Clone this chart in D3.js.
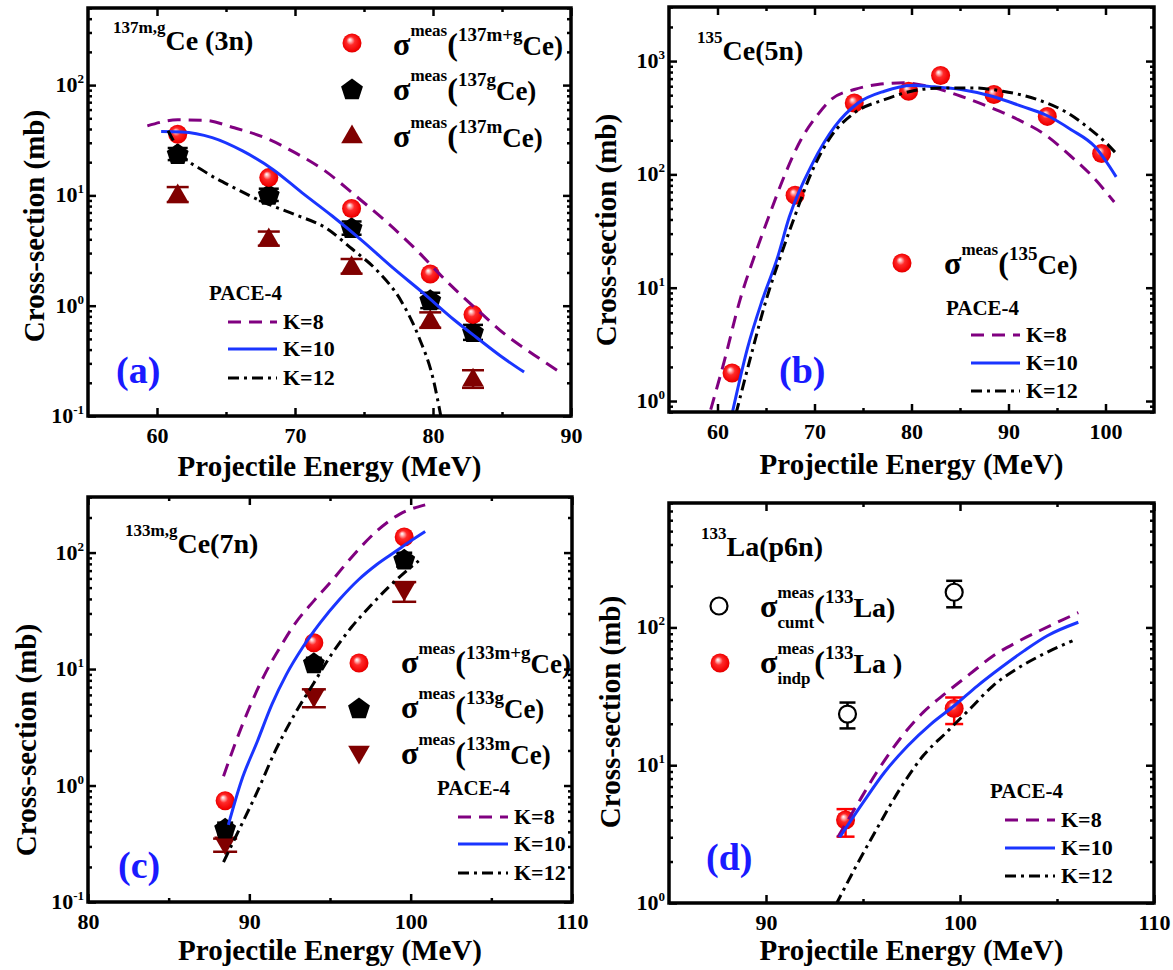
<!DOCTYPE html>
<html><head><meta charset="utf-8">
<script src="https://cdn.jsdelivr.net/npm/d3@7"></script>
<style>
body{margin:0;background:#fff}
text{font-family:"Liberation Serif","Times New Roman",serif;font-weight:bold}
</style>
</head><body>
<svg id="c" width="1173" height="970"></svg>
<script>
// ---------------- DATA ----------------
// Panel (a) 137m,gCe (3n)
const energyA = [61.5, 68.1, 74.1, 79.8, 82.9];
const sigmaA_mg = [35.9, 14.5, 7.6, 1.94, 0.83];
const sigmaA_g = [23.9, 10.2, 5.1, 1.13, 0.58];
const sigmaA_m = [10.3, 4.1, 2.3, 0.75, 0.22];
const errA_g = [3.0, 1.3, 0.7, 0.18, 0.09];
const errA_m = [1.6, 0.6, 0.35, 0.12, 0.04];
const paceA_K8_E = [59.3, 61.5, 63.4, 65.6, 67.8, 70, 72.2, 74.4, 76.6, 78.8, 81, 83.2, 85.3, 87.3, 89.2];
const paceA_K8 = [42.7, 48.4, 48, 41, 33.4, 24.4, 16.6, 9.9, 5.8, 3.2, 1.66, 0.92, 0.54, 0.36, 0.25];
const paceA_K10_E = [60.3, 61.8, 64, 66.2, 68.4, 70.5, 72.7, 74.9, 77.1, 79.3, 81.5, 83.2, 84.9, 86.6];
const paceA_K10 = [37.9, 37.6, 33.4, 25.3, 17.2, 10.6, 6.5, 3.85, 2.2, 1.3, 0.75, 0.51, 0.35, 0.25];
const paceA_K12_E = [60.8, 61.8, 63.4, 65.6, 67.8, 70, 72.2, 74.1, 76, 77.7, 79, 80, 80.6];
const paceA_K12 = [38.5, 23.6, 16.6, 11.7, 8.6, 6.7, 5.1, 3.3, 2.05, 1.1, 0.51, 0.22, 0.095];

// Panel (b) 135Ce (5n)
const energyB = [61.5, 68.0, 74.1, 79.7, 83.0, 88.5, 94.0, 99.6];
const sigmaB = [1.77, 65.6, 427, 542, 746, 506, 325, 153];
const paceB_K8_E = [59.3, 60.7, 62.3, 63.9, 65.4, 67.0, 68.6, 70.2, 71.7, 74.1, 76.5, 79.2, 82.0, 85.1, 88.3, 91.0, 93.8, 96.1, 98.5, 100.9];
const paceB_K8 = [0.84, 2.25, 7.7, 20, 45, 102, 202, 325, 457, 561, 621, 643, 592, 489, 385, 304, 223, 153, 99, 57];
const paceB_K10_E = [61.5, 63.1, 64.6, 66.2, 67.4, 69.8, 72.1, 74.5, 77.2, 80.0, 82.4, 85.1, 88.3, 91.4, 93.8, 96.5, 98.9, 101.1];
const paceB_K10 = [0.77, 2.95, 7.7, 18.6, 42, 125, 265, 427, 542, 608, 592, 561, 489, 398, 336, 247, 176, 95];
const paceB_K12_E = [61.9, 63.5, 65.0, 66.6, 67.8, 69.8, 71.7, 74.1, 77.2, 80.0, 83.1, 86.3, 89.4, 93.0, 96.1, 98.5, 100.1, 101.1];
const paceB_K12 = [0.77, 2.6, 7.7, 20, 39, 109, 216, 348, 457, 542, 579, 579, 542, 457, 348, 247, 188, 153];

// Panel (c) 133m,gCe (7n)
const energyC = [88.5, 94.0, 99.6];
const sigmaC_mg = [0.74, 16.8, 136];
const sigmaC_g = [0.43, 11.3, 87.7];
const sigmaC_m = [0.31, 5.7, 46.8];
const errC_g = [0.05, 1.2, 12];
const errC_m = [0.04, 1.0, 9];
const paceC_K8_E = [88.4, 89.1, 90.0, 90.9, 91.9, 92.8, 94.0, 95.1, 96.3, 97.9, 99.3, 100.9];
const paceC_K8 = [1.2, 2.25, 4.65, 8.7, 15.3, 24.2, 38.5, 57, 90, 153, 213, 257];
const paceC_K10_E = [88.7, 89.5, 90.5, 91.4, 92.3, 93.3, 94.4, 95.6, 96.8, 97.9, 99.1, 100.0, 100.9];
const paceC_K10 = [0.46, 1.09, 2.4, 4.97, 9.0, 15.3, 25, 39.7, 59, 79, 103, 126, 152];
const paceC_K12_E = [88.4, 89.3, 90.5, 91.6, 92.8, 94.0, 95.1, 96.3, 97.5, 98.6, 99.6, 100.5];
const paceC_K12 = [0.22, 0.40, 0.89, 1.97, 4.07, 7.6, 13.4, 22.6, 34.8, 50, 67, 85];

// Panel (d) 133La (p6n)
const energyD_cumt = [94.2, 99.7];
const sigmaD_cumt = [23.5, 180];
const loD_cumt = [18.5, 140];
const hiD_cumt = [28.5, 218];
const energyD_indp = [94.1, 99.7];
const sigmaD_indp = [4.0, 25.8];
const loD_indp = [3.03, 19.9];
const hiD_indp = [4.8, 31];
const paceD_K8_E = [93.7, 94.6, 95.7, 96.9, 98.1, 99.3, 100.5, 101.7, 102.9, 104.1, 105.2, 106.1];
const paceD_K8 = [3.0, 4.9, 8.85, 15.5, 24.2, 33.7, 45.8, 62, 77.8, 94.6, 112, 128];
const paceD_K10_E = [93.8, 95.0, 96.1, 97.3, 98.5, 99.7, 100.9, 102.1, 103.3, 104.5, 106.1];
const paceD_K10 = [3.0, 5.35, 8.85, 13.8, 19.9, 27, 37.7, 51, 67.6, 87, 109];
const paceD_K12_E = [93.6, 94.6, 95.7, 96.9, 98.1, 99.3, 100.5, 101.7, 102.9, 104.1, 105.8];
const paceD_K12 = [0.97, 1.8, 3.43, 6.7, 11.7, 17.3, 25.5, 37.7, 49.8, 62, 80];

// Axis ticks
const ticksA_x = [60, 70, 80, 90], minorA_x = [65, 75, 85];
const ticksB_x = [60, 70, 80, 90, 100], minorB_x = [65, 75, 85, 95];
const ticksC_x = [80, 90, 100, 110], minorC_x = [85, 95, 105];
const ticksD_x = [90, 100, 110], minorD_x = [95, 105];
const paceLabels = ["K=8", "K=10", "K=12"];

// ---------------- STYLE ----------------
const C8 = "#800080", C10 = "#1a35ff", C12 = "#000000", DARKRED = "#800000", LBLUE = "#1a1aff";
const svg = d3.select("#c");
svg.append("rect").attr("width", 1173).attr("height", 970).attr("fill", "#fff");
const defs = svg.append("defs");
const grad = defs.append("radialGradient").attr("id", "ball").attr("cx", 0.5).attr("cy", 0.5).attr("r", 0.55).attr("fx", 0.38).attr("fy", 0.32);
[[0, "#ffffff"], [0.14, "#ffc0c0"], [0.4, "#ff2a2a"], [0.85, "#f00000"], [1, "#c80000"]].forEach(s =>
  grad.append("stop").attr("offset", s[0]).attr("stop-color", s[1]));

function polyPath(r, startDeg, n) {
  const pts = d3.range(n).map(i => {
    const a = (startDeg + 360 / n * i) * Math.PI / 180;
    return [r * Math.cos(a), r * Math.sin(a)];
  });
  return "M" + pts.map(p => p.join(",")).join("L") + "Z";
}

function marker(g, type, cx, cy) {
  if (type === "ball") {
    g.append("circle").attr("cx", cx).attr("cy", cy).attr("r", 9.5).attr("fill", "url(#ball)");
  } else if (type === "open") {
    g.append("circle").attr("cx", cx).attr("cy", cy).attr("r", 8.5).attr("fill", "#fff").attr("stroke", "#000").attr("stroke-width", 2.2);
  } else if (type === "pent") {
    g.append("path").attr("transform", `translate(${cx},${cy + 1})`).attr("d", polyPath(11.5, -90, 5)).attr("fill", "#000");
  } else if (type === "tri") {
    g.append("path").attr("transform", `translate(${cx},${cy + 2})`).attr("d", polyPath(12.5, -90, 3)).attr("fill", DARKRED);
  } else if (type === "tridown") {
    g.append("path").attr("transform", `translate(${cx},${cy - 2})`).attr("d", polyPath(12.5, 90, 3)).attr("fill", DARKRED);
  }
}

function richText(g, x, y, segs, color) {
  let cx = x, stackW = 0;
  segs.forEach(s => {
    const t = g.append("text").attr("x", cx).attr("y", y - (s.r || 0))
      .attr("font-size", s.s).attr("fill", color || "#000").text(s.t);
    const w = t.node().getComputedTextLength();
    if (s.stack) { stackW = w; }
    else { cx += Math.max(w, stackW); stackW = 0; }
  });
}

function legendRow(g, x, y, iso, tail) {
  richText(g, x, y, [
    { t: "σ", s: 32 }, { t: "meas", s: 17, r: 19 }, { t: "(", s: 32 },
    { t: iso, s: 19, r: 14 }, { t: tail || "Ce)", s: 27 }
  ]);
}

function drawPanel(p) {
  const g = svg.append("g");
  const x = d3.scaleLinear().domain(p.xDom).range([p.x0, p.x1]);
  const y = d3.scaleLog().domain(p.yDom).range([p.y1, p.y0]);
  const cid = "clip" + p.id;
  defs.append("clipPath").attr("id", cid).append("rect")
    .attr("x", p.x0).attr("y", p.y0).attr("width", p.x1 - p.x0).attr("height", p.y1 - p.y0);

  // ticks
  const lo = Math.floor(Math.log10(p.yDom[0])), hi = Math.ceil(Math.log10(p.yDom[1]));
  const decades = [], minors = [];
  for (let d = lo; d <= hi; d++) {
    const v = Math.pow(10, d);
    if (v >= p.yDom[0] * 0.999 && v <= p.yDom[1]) decades.push(v);
    for (let k = 2; k <= 9; k++) { const m = k * v; if (m >= p.yDom[0] && m <= p.yDom[1]) minors.push(m); }
  }
  const styleAxis = sel => {
    sel.select(".domain").remove();
    sel.selectAll("line").attr("stroke", "#000").attr("stroke-width", 2.5);
  };
  const none = () => "";
  const gb = g.append("g").attr("transform", `translate(0,${p.y1})`)
    .call(d3.axisBottom(x).tickValues(p.xMajor).tickSizeInner(-8).tickSizeOuter(0).tickPadding(11).tickFormat(d3.format("d")));
  styleAxis(gb);
  gb.selectAll("text").attr("font-size", 22).attr("font-family", '"Liberation Serif","Times New Roman",serif').attr("font-weight", "bold").attr("fill", "#000");
  g.append("g").attr("transform", `translate(0,${p.y1})`).call(d3.axisBottom(x).tickValues(p.xMinor).tickSizeInner(-4).tickSizeOuter(0).tickFormat(none)).call(styleAxis);
  g.append("g").attr("transform", `translate(0,${p.y0})`).call(d3.axisTop(x).tickValues(p.xMajor).tickSizeInner(-8).tickSizeOuter(0).tickFormat(none)).call(styleAxis);
  g.append("g").attr("transform", `translate(0,${p.y0})`).call(d3.axisTop(x).tickValues(p.xMinor).tickSizeInner(-4).tickSizeOuter(0).tickFormat(none)).call(styleAxis);
  g.append("g").attr("transform", `translate(${p.x0},0)`).call(d3.axisLeft(y).tickValues(decades).tickSizeInner(-8).tickSizeOuter(0).tickFormat(none)).call(styleAxis);
  g.append("g").attr("transform", `translate(${p.x0},0)`).call(d3.axisLeft(y).tickValues(minors).tickSizeInner(-4).tickSizeOuter(0).tickFormat(none)).call(styleAxis);
  g.append("g").attr("transform", `translate(${p.x1},0)`).call(d3.axisRight(y).tickValues(decades).tickSizeInner(-8).tickSizeOuter(0).tickFormat(none)).call(styleAxis);
  g.append("g").attr("transform", `translate(${p.x1},0)`).call(d3.axisRight(y).tickValues(minors).tickSizeInner(-4).tickSizeOuter(0).tickFormat(none)).call(styleAxis);
  decades.forEach(v => {
    const t = g.append("text").attr("x", p.x0 - 4).attr("y", y(v) + 7).attr("text-anchor", "end").attr("font-size", 22);
    t.append("tspan").text("10");
    t.append("tspan").attr("font-size", 13).attr("dy", -9).text(String(Math.round(Math.log10(v))));
  });

  // axis titles
  g.append("text").attr("x", (p.x0 + p.x1) / 2).attr("y", p.xTitleY).attr("text-anchor", "middle").attr("font-size", 29).text("Projectile Energy (MeV)");
  g.append("text").attr("transform", `translate(${p.yTitleX},${p.yTitleY}) rotate(-90)`).attr("text-anchor", "middle").attr("font-size", 29).text("Cross-section (mb)");

  // data points
  const pts = g.append("g").attr("clip-path", `url(#${cid})`);
  p.series.forEach(s => {
    s.E.forEach((e, i) => {
      const cx = x(e), cy = y(s.v[i]);
      if (s.lo) {
        const y1 = y(s.lo[i]), y2 = y(s.hi[i]), cw = s.cw || 10;
        pts.append("line").attr("x1", cx).attr("x2", cx).attr("y1", y1).attr("y2", y2).attr("stroke", s.ec).attr("stroke-width", 2.5);
        [y1, y2].forEach(yy => pts.append("line").attr("x1", cx - cw).attr("x2", cx + cw).attr("y1", yy).attr("y2", yy).attr("stroke", s.ec).attr("stroke-width", 2.5));
      }
      marker(pts, s.type, cx, cy);
    });
  });

  // curves
  const line = d3.line().x(d => x(d[0])).y(d => y(d[1])).curve(d3.curveMonotoneX);
  const cg = g.append("g").attr("clip-path", `url(#${cid})`);
  p.curves.forEach(c => {
    cg.append("path").attr("d", line(d3.zip(c.E, c.v))).attr("fill", "none")
      .attr("stroke", c.color).attr("stroke-width", 3).attr("stroke-dasharray", c.dash);
  });

  // frame
  g.append("rect").attr("x", p.x0).attr("y", p.y0).attr("width", p.x1 - p.x0).attr("height", p.y1 - p.y0)
    .attr("fill", "none").attr("stroke", "#000").attr("stroke-width", 3.5);

  // title
  richText(g, p.title.x, p.title.y, [{ t: p.title.sup, s: 17, r: 17 }, { t: p.title.main, s: 28 }]);
  // panel label
  g.append("text").attr("x", p.label.x).attr("y", p.label.y).attr("font-size", 38).attr("fill", LBLUE).text(p.label.t);

  // PACE legend
  const L = p.pace;
  g.append("text").attr("x", L.tx).attr("y", L.ty).attr("font-size", 21).text("PACE-4");
  const styles = [[C8, "13,8"], [C10, null], [C12, "11,5,3,5"]];
  paceLabels.forEach((lab, i) => {
    g.append("line").attr("x1", L.lx0).attr("x2", L.lx1).attr("y1", L.ly[i]).attr("y2", L.ly[i])
      .attr("stroke", styles[i][0]).attr("stroke-width", 3).attr("stroke-dasharray", styles[i][1]);
    g.append("text").attr("x", L.lx1 + 6).attr("y", L.ly[i] + 7).attr("font-size", 22).text(lab);
  });
  return g;
}

const K8 = (E, v) => ({ E, v, color: C8, dash: "13,8" });
const K10 = (E, v) => ({ E, v, color: C10, dash: null });
const K12 = (E, v) => ({ E, v, color: C12, dash: "11,5,3,5" });
const lowErr = (v, e) => v.map((d, i) => d - e[i]);
const highErr = (v, e) => v.map((d, i) => d + e[i]);

// ---------------- PANEL (a) ----------------
const gA = drawPanel({
  id: "a", x0: 88, x1: 571, y0: 8, y1: 416, xDom: [55, 90], yDom: [0.1, 500],
  xMajor: ticksA_x, xMinor: minorA_x, xTitleY: 476, yTitleX: 44, yTitleY: 226,
  series: [
    { E: energyA, v: sigmaA_m, type: "tri", lo: lowErr(sigmaA_m, errA_m), hi: highErr(sigmaA_m, errA_m), ec: DARKRED, cw: 11 },
    { E: energyA, v: sigmaA_g, type: "pent", lo: lowErr(sigmaA_g, errA_g), hi: highErr(sigmaA_g, errA_g), ec: "#000", cw: 10 },
    { E: energyA, v: sigmaA_mg, type: "ball" }
  ],
  curves: [K8(paceA_K8_E, paceA_K8), K10(paceA_K10_E, paceA_K10), K12(paceA_K12_E, paceA_K12)],
  title: { x: 113, y: 50, sup: "137m,g", main: "Ce (3n)" },
  label: { x: 116, y: 383, t: "(a)" },
  pace: { tx: 209, ty: 300, lx0: 228, lx1: 277, ly: [322, 349, 378] }
});
marker(gA, "ball", 352, 43); legendRow(gA, 393, 55, "137m+g");
marker(gA, "pent", 352, 89); legendRow(gA, 393, 100, "137g");
marker(gA, "tri", 352, 135); legendRow(gA, 393, 147, "137m");

// ---------------- PANEL (b) ----------------
const gB = drawPanel({
  id: "b", x0: 669, x1: 1154, y0: 7, y1: 412, xDom: [55, 105], yDom: [0.8, 3000],
  xMajor: ticksB_x, xMinor: minorB_x, xTitleY: 474, yTitleX: 616, yTitleY: 230,
  series: [{ E: energyB, v: sigmaB, type: "ball" }],
  curves: [K8(paceB_K8_E, paceB_K8), K10(paceB_K10_E, paceB_K10), K12(paceB_K12_E, paceB_K12)],
  title: { x: 697, y: 60, sup: "135", main: "Ce(5n)" },
  label: { x: 779, y: 383, t: "(b)" },
  pace: { tx: 946, ty: 315, lx0: 971, lx1: 1020, ly: [335, 363, 391] }
});
marker(gB, "ball", 902, 263); legendRow(gB, 944, 274, "135");

// ---------------- PANEL (c) ----------------
const gC = drawPanel({
  id: "c", x0: 88, x1: 572, y0: 497, y1: 902, xDom: [80, 110], yDom: [0.1, 300],
  xMajor: ticksC_x, xMinor: minorC_x, xTitleY: 960, yTitleX: 36, yTitleY: 740,
  series: [
    { E: energyC, v: sigmaC_m, type: "tridown", lo: lowErr(sigmaC_m, errC_m), hi: highErr(sigmaC_m, errC_m), ec: DARKRED, cw: 12 },
    { E: energyC, v: sigmaC_g, type: "pent", lo: lowErr(sigmaC_g, errC_g), hi: highErr(sigmaC_g, errC_g), ec: "#000", cw: 8 },
    { E: energyC, v: sigmaC_mg, type: "ball" }
  ],
  curves: [K8(paceC_K8_E, paceC_K8), K10(paceC_K10_E, paceC_K10), K12(paceC_K12_E, paceC_K12)],
  title: { x: 125, y: 553, sup: "133m,g", main: "Ce(7n)" },
  label: { x: 118, y: 878, t: "(c)" },
  pace: { tx: 437, ty: 795, lx0: 458, lx1: 508, ly: [817, 844, 873] }
});
marker(gC, "ball", 359, 663); legendRow(gC, 401, 673, "133m+g");
marker(gC, "pent", 359, 708); legendRow(gC, 401, 718, "133g");
marker(gC, "tridown", 359, 754); legendRow(gC, 401, 764, "133m");

// ---------------- PANEL (d) ----------------
const gD = drawPanel({
  id: "d", x0: 669, x1: 1154, y0: 503, y1: 903, xDom: [85, 110], yDom: [1, 800],
  xMajor: ticksD_x, xMinor: minorD_x, xTitleY: 960, yTitleX: 620, yTitleY: 712,
  series: [
    { E: energyD_cumt, v: sigmaD_cumt, type: "open", lo: loD_cumt, hi: hiD_cumt, ec: "#000", cw: 8 },
    { E: energyD_indp, v: sigmaD_indp, type: "ball", lo: loD_indp, hi: hiD_indp, ec: "#ff0000", cw: 9 }
  ],
  curves: [K8(paceD_K8_E, paceD_K8), K10(paceD_K10_E, paceD_K10), K12(paceD_K12_E, paceD_K12)],
  title: { x: 701, y: 556, sup: "133", main: "La(p6n)" },
  label: { x: 706, y: 870, t: "(d)" },
  pace: { tx: 990, ty: 798, lx0: 1005, lx1: 1055, ly: [820, 848, 876] }
});
marker(gD, "open", 719, 606);
richText(gD, 760, 617, [{ t: "σ", s: 32 }, { t: "meas", s: 17, r: 19, stack: true }, { t: "cumt", s: 17, r: -11 },
  { t: "(", s: 32 }, { t: "133", s: 19, r: 14 }, { t: "La)", s: 28 }]);
marker(gD, "ball", 720, 663);
richText(gD, 760, 673, [{ t: "σ", s: 32 }, { t: "meas", s: 17, r: 19, stack: true }, { t: "indp", s: 17, r: -11 },
  { t: "(", s: 32 }, { t: "133", s: 19, r: 14 }, { t: "La )", s: 28 }]);
</script>
</body></html>
